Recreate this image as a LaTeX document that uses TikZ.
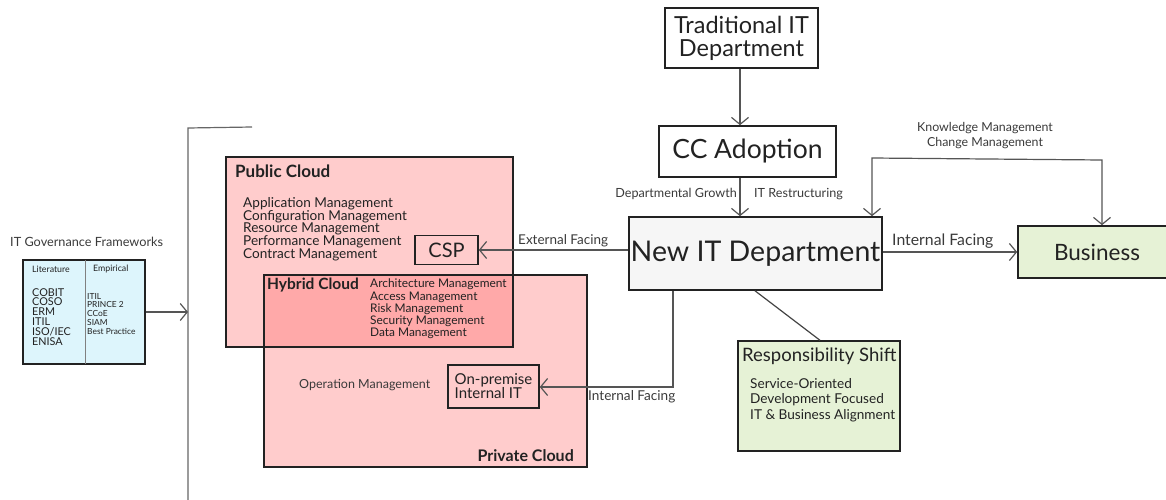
\documentclass[tikz,border=0pt]{standalone}
\usepackage{fontspec}
\setmainfont{Lato}
\usetikzlibrary{arrows.meta}
\definecolor{ink}{HTML}{222222}
\definecolor{wire}{HTML}{555555}
\definecolor{labelgray}{HTML}{3A3A3A}
\definecolor{cloudpink}{HTML}{FFCCCC}
\definecolor{hybridpink}{HTML}{FFA9A9}
\definecolor{paleblue}{HTML}{DDF5FC}
\definecolor{palegreen}{HTML}{E6F2D6}
\definecolor{palegray}{HTML}{F6F6F6}
\newcommand\fs[2]{\fontsize{#1}{#2}\selectfont}
\begin{document}
\begin{tikzpicture}[x=1pt,y=-1pt,
  box/.style={draw=ink, line width=1.6pt, inner sep=0pt, fill=white, text=ink},
  cloud/.style={draw=ink, line width=1.4pt, fill=cloudpink, inner sep=0pt},
  conn/.style={draw=wire, line width=1.2pt},
  lbl/.style={inner sep=0pt, text=labelgray},
  txt/.style={inner sep=0pt, text=ink, align=left},
  >={Straight Barb[length=7pt,width=17pt,line width=1.2pt]}]
\useasboundingbox (0,0) rectangle (1166,500);

% bracket collecting the governance frameworks
\coordinate (brtop) at (188,128);
\coordinate (brbot) at (188,500);
\draw[conn, draw=wire!90] (252,127) -- (brtop) -- (brbot);

% governance frameworks
\node[lbl, anchor=west, font=\fs{12.7}{14}] (fwlabel) at (10,242) {IT Governance Frameworks};
\node[box, fill=paleblue, minimum width=122, minimum height=104, line width=1.4pt] (fw) at (84,312) {};
\draw[draw=black!50, line width=1pt] (85,260) -- (85,364);
\node[txt, anchor=west, font=\fs{8.8}{10}] (lit) at (32,269) {Literature};
\node[txt, anchor=west, font=\fs{8.8}{10}] (emp) at (93,269) {Empirical};
\node[txt, anchor=north west, font=\fs{10.8}{9.9}] (litlist) at (32,288)
  {COBIT\\COSO\\ERM\\ITIL\\ISO/IEC\\ENISA};
\node[txt, anchor=north west, font=\fs{8.4}{8.7}] (emplist) at (87,293)
  {ITIL\\PRINCE 2\\CCoE\\SIAM\\Best Practice};
\draw[conn, ->] (fw.east) -- (fw.east -| brtop);

% cloud areas
\node[cloud] (public) at (369.5,252) [minimum width=287, minimum height=190] {};
\node[cloud] (private) at (425.5,371) [minimum width=323, minimum height=192] {};
\fill[hybridpink] (264,275) rectangle (513,347);
\draw[ink, line width=1.4pt] (226,157) rectangle (513,347);
\draw[ink, line width=1.4pt] (264,275) rectangle (587,467);

\node[txt, anchor=base west, font=\bfseries\fs{17}{18}] (pubtitle) at (235,177) {Public Cloud};
\node[txt, anchor=north west, font=\fs{13.6}{12.8}] (publist) at (243,197)
  {Application Management\\Configuration Management\\Resource Management\\Performance Management\\Contract Management};
\node[txt, anchor=base west, font=\bfseries\fs{15.5}{16}] (hybtitle) at (267,289) {Hybrid Cloud};
\node[txt, anchor=north west, font=\fs{11.9}{12.2}] (hyblist) at (370,279)
  {Architecture Management\\Access Management\\Risk Management\\Security Management\\Data Management};
\node[lbl, anchor=west, font=\fs{12.5}{13}] (opmgmt) at (299,385.5) {Operation Management};
\node[txt, anchor=base east, font=\bfseries\fs{16}{17}] (privtitle) at (574,461) {Private Cloud};

% service providers inside the clouds
\node[box, fill=none, minimum width=63, minimum height=29, font=\fs{20}{20}] (csp) at (446.5,250) {CSP};
\node[box, fill=none, minimum width=91, minimum height=43, align=left, font=\fs{15}{14}] (onprem) at (493.5,386.5) {On-premise\\Internal IT};

% department evolution
\node[box, minimum width=153, minimum height=60, align=center, font=\fs{23.5}{23}] (trad) at (741.5,38) {Traditional IT\\Department};
\node[box, minimum width=177, minimum height=51, font=\fs{26.5}{26}] (cc) at (747.5,151.5) {CC Adoption};
\node[box, fill=palegray, minimum width=253, minimum height=73, font=\fs{28.5}{30}] (newit) at (755.5,253.5) {New IT Department};
\node[box, fill=palegreen, minimum width=158, minimum height=52, font=\fs{22.5}{22}] (business) at (1097,252) {Business};
\node[box, fill=palegreen, minimum width=162, minimum height=110, line width=1.4pt] (resp) at (819,396) {};
\node[txt, anchor=west, font=\fs{18.5}{20}] (resptitle) at (742,356) {Responsibility Shift};
\node[txt, anchor=north west, font=\fs{13.6}{15.5}] (resplist) at (750,378)
  {Service-Oriented\\Development Focused\\IT \& Business Alignment};

% guide columns for the connectors
\coordinate (spine) at (740,0);
\coordinate (shiftA) at (755,0);
\coordinate (shiftB) at (820,0);

% connectors
\draw[conn, ->] (spine |- trad.south) -- (spine |- cc.north);
\draw[conn, ->] (spine |- cc.south) -- (spine |- newit.north);
\node[lbl, anchor=east, font=\fs{12.6}{13}] (growth) at (737,194) {Departmental Growth};
\node[lbl, anchor=west, font=\fs{12.6}{13}] (restruct) at (754,194) {IT Restructuring};

\coordinate (kmleft) at (872,158);
\coordinate (kmright) at (1102,160);
\draw[conn, <->] (kmleft |- newit.north) -- (kmleft) -- (kmright) -- (kmright |- business.north);
\node[lbl, align=center, font=\fs{12.4}{15}] (kmlabel) at (985,135.5) {Knowledge Management\\Change Management};

\draw[conn, ->] (newit.east |- business.west) -- (business.west);
\node[lbl, anchor=west, font=\fs{15.8}{16}] (intface) at (892,241) {Internal Facing};

\draw[conn, ->] (newit.west |- csp.east) -- (csp.east);
\node[lbl, anchor=west, font=\fs{13.5}{14}] (extface) at (518,241) {External Facing};

\coordinate (onbend) at (673,387);
\draw[conn, ->] (onbend |- newit.south) -- (onbend) -- (onprem.east |- onbend);
\node[lbl, anchor=west, font=\fs{13.6}{14}] (intface2) at (588,397) {Internal Facing};

\draw[conn, draw=ink!85] (shiftA |- newit.south) -- (shiftB |- resp.north);
\end{tikzpicture}
\end{document}
